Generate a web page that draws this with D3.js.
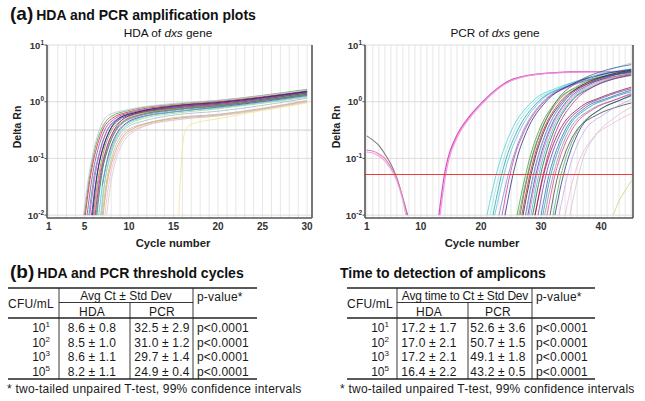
<!DOCTYPE html>
<html><head><meta charset="utf-8">
<script src="https://cdn.jsdelivr.net/npm/d3@7"></script>
<style>
body{margin:0;background:#fff}
svg{display:block}
text{font-family:"Liberation Sans",Arial,sans-serif}
</style>
</head><body>
<svg id="c" width="645" height="401"></svg>
<script>
// ---------- DATA ----------
const yTickExps = [1, 0, -1, -2];
const hdaXTicks = [1, 5, 10, 15, 20, 25, 30];
const pcrXTicks = [1, 10, 20, 30, 40];
const hdaThreshold = 0.316;
const pcrThreshold = 0.054;

// HDA amplification curves: [cycle, delta Rn]
const hdaCurves = [
  [[5.0,0.01],[5.6,0.05],[6.2,0.15],[7,0.35],[8,0.55],[10,0.7],[15,0.9],[20,1.05],[30,1.65]],
  [[5.1,0.01],[5.7,0.05],[6.3,0.14],[7.1,0.33],[8.2,0.52],[10,0.66],[15,0.86],[20,1.0],[30,1.55]],
  [[5.3,0.01],[5.9,0.05],[6.5,0.14],[7.3,0.32],[8.4,0.5],[10,0.63],[15,0.82],[20,0.96],[30,1.5]],
  [[5.5,0.01],[6.1,0.05],[6.7,0.13],[7.5,0.3],[8.6,0.48],[10,0.6],[15,0.8],[20,0.93],[30,1.45]],
  [[4.9,0.01],[5.4,0.04],[6.0,0.13],[6.8,0.36],[7.7,0.58],[10,0.73],[15,0.93],[20,1.06],[30,1.6]],
  [[5.6,0.01],[6.2,0.05],[6.8,0.14],[7.6,0.32],[8.7,0.5],[10,0.6],[15,0.78],[20,0.9],[30,1.4]],
  [[5.8,0.01],[6.4,0.05],[7.0,0.14],[7.8,0.3],[8.9,0.48],[10,0.57],[15,0.76],[20,0.88],[30,1.42]],
  [[6.0,0.01],[6.5,0.04],[7.1,0.12],[8.0,0.3],[9,0.45],[10,0.55],[15,0.75],[20,0.87],[30,1.38]],
  [[6.1,0.01],[6.7,0.05],[7.4,0.14],[8.3,0.3],[9.3,0.45],[10.5,0.55],[15,0.73],[20,0.86],[30,1.35]],
  [[6.3,0.01],[6.9,0.05],[7.6,0.14],[8.5,0.3],[9.5,0.44],[10.5,0.52],[15,0.7],[20,0.83],[30,1.32]],
  [[7.0,0.033],[7.6,0.1],[8.6,0.27],[9.7,0.42],[11,0.52],[15,0.66],[20,0.8],[30,1.28]],
  [[6.6,0.01],[7.2,0.05],[7.9,0.13],[8.8,0.28],[9.9,0.42],[11,0.5],[15,0.66],[20,0.78],[30,1.25]],
  [[6.8,0.01],[7.3,0.04],[8.0,0.12],[9.0,0.27],[10,0.37],[11.5,0.45],[15,0.58],[20,0.68],[30,1.15]],
  [[7.0,0.01],[7.5,0.04],[8.2,0.12],[9.2,0.26],[10.2,0.34],[12,0.42],[15,0.52],[20,0.6],[30,1.05]],
  [[7.1,0.01],[7.6,0.04],[8.3,0.11],[9.3,0.24],[10.4,0.33],[12,0.41],[15,0.5],[20,0.58],[30,1.02]],
  [[7.3,0.01],[7.8,0.04],[8.5,0.11],[9.4,0.23],[10.5,0.31],[12,0.39],[15,0.48],[20,0.57],[30,1.0]],
  [[7.5,0.01],[8.0,0.04],[8.6,0.1],[9.6,0.22],[10.6,0.3],[12,0.38],[15,0.47],[20,0.56],[30,0.98]],
  [[6.2,0.01],[6.8,0.05],[7.5,0.15],[8.4,0.33],[9.4,0.5],[10.5,0.6],[15,0.8],[20,0.93],[30,1.48]],
  [[5.9,0.01],[6.5,0.06],[7.2,0.17],[8.0,0.35],[9,0.52],[10.5,0.63],[15,0.84],[20,0.97],[30,1.52]],
  [[6.4,0.01],[7.0,0.06],[7.7,0.16],[8.6,0.33],[9.6,0.47],[11,0.57],[15,0.72],[20,0.85],[30,1.35]],
  [[15.6,0.01],[15.8,0.05],[16.0,0.15],[16.3,0.3],[17,0.4],[20,0.5],[30,0.95]],
  [[6.9,0.01],[7.4,0.05],[8.1,0.14],[9.1,0.3],[10,0.4],[11.5,0.5],[15,0.62],[20,0.75],[30,1.2]]
];
const hdaColors = ["#3cb043","#d62728","#8e44ad","#17a2a2","#c8b8e0","#e040c0","#1f3a93","#8a9a2a",
  "#f06aa0","#7a8aa8","#6a2c91","#40c8d8","#a8bcd0","#b8b8b8","#e0a050","#f4b8d0","#cfcfcf",
  "#a0207a","#202060","#2e8b57","#f0e68c","#98d898"];

// PCR amplification curves: [cycle, delta Rn]
const pcrCurves = [
  [[1,0.25],[2,0.21],[3,0.17],[4,0.12],[5,0.08],[6,0.045],[7,0.02],[7.8,0.01]],
  [[1,0.14],[2,0.135],[3,0.12],[4,0.1],[5,0.07],[6,0.045],[7,0.02],[7.7,0.01]],
  [[1,0.13],[2,0.125],[3,0.11],[4,0.09],[5,0.065],[6,0.04],[7,0.018],[7.5,0.01]],
  [[13,0.01],[13.9,0.05],[14.5,0.1],[15.7,0.22],[18.2,0.57],[20.3,1.0],[23,1.8],[25.3,2.5],[31,3.2],[38,3.4],[45,3.4]],
  [[13.2,0.01],[14.1,0.05],[14.7,0.1],[16,0.23],[18.5,0.58],[20.5,1.0],[23.2,1.8],[25.5,2.45],[31,3.15],[38,3.35],[45,3.35]],
  [[21,0.01],[22.5,0.05],[23.3,0.1],[25,0.3],[28.5,1.0],[33,1.8],[38,2.6],[45,3.4]],
  [[21.5,0.01],[23,0.05],[23.8,0.1],[25.5,0.3],[29,1.0],[33,1.7],[38,2.5],[45,3.2]],
  [[22,0.01],[23.4,0.05],[24.2,0.1],[26,0.3],[29.5,1.0],[34,1.8],[39,2.6],[45,3.3]],
  [[22.3,0.01],[23.8,0.05],[24.6,0.1],[26.4,0.3],[29.8,1.0],[34,1.9],[39,2.9],[45,3.8]],
  [[23,0.01],[24.5,0.05],[25.3,0.1],[27,0.3],[30.3,1.0],[34.5,1.9],[39,2.8],[45,3.6]],
  [[23.5,0.01],[24.8,0.05],[25.5,0.1],[27.2,0.3],[30.5,1.0],[35,1.9],[40,2.7],[45,3.3]],
  [[24,0.01],[25.3,0.05],[26,0.1],[27.6,0.3],[30.8,1.0],[35,2.0],[40,3.0],[45,3.7]],
  [[26,0.01],[27.4,0.05],[28.1,0.1],[29.6,0.3],[32.5,1.0],[36.5,1.9],[40,2.6],[45,3.3]],
  [[26.3,0.01],[27.7,0.05],[28.4,0.1],[29.9,0.3],[32.8,1.0],[36.5,2.0],[41,2.9],[45,3.5]],
  [[26.8,0.01],[28.1,0.05],[28.8,0.1],[30.3,0.3],[33.2,1.0],[37,1.9],[41,2.6],[45,3.1]],
  [[27,0.01],[28.3,0.05],[29,0.1],[30.5,0.3],[33.5,1.0],[37,2.0],[41,2.9],[45,3.6]],
  [[27.4,0.01],[28.7,0.05],[29.4,0.1],[30.9,0.3],[33.8,1.0],[37.5,2.0],[41,2.8],[45,3.4]],
  [[27.8,0.01],[29.1,0.05],[29.8,0.1],[31.3,0.3],[34.2,1.0],[38,2.0],[41.5,2.8],[45,3.5]],
  [[28,0.01],[29.3,0.05],[30,0.1],[31.5,0.3],[34.5,1.0],[38,1.9],[42,2.7],[45,3.1]],
  [[28.3,0.01],[29.6,0.05],[30.3,0.1],[31.8,0.3],[34.8,1.0],[38.5,1.9],[42,2.6],[45,3.0]],
  [[28.6,0.01],[29.9,0.05],[30.6,0.1],[32.1,0.3],[35,1.0],[38.5,1.8],[42,2.5],[45,2.9]],
  [[29,0.01],[30.3,0.05],[31,0.1],[32.5,0.3],[35.5,1.0],[39,1.9],[42.5,2.6],[45,3.0]],
  [[27.5,0.01],[28.8,0.05],[29.5,0.1],[31,0.3],[33.5,1.0],[37,2.2],[41,3.5],[45,4.8]],
  [[26.5,0.01],[27.8,0.05],[28.5,0.1],[30,0.3],[32.5,1.0],[36,2.2],[40,3.4],[45,4.5]],
  [[29,0.01],[30.4,0.05],[31.2,0.1],[33,0.3],[36.5,0.8],[40,1.2],[45,1.8]],
  [[29.5,0.01],[30.8,0.05],[31.6,0.1],[33.4,0.3],[37,0.8],[40.5,1.2],[45,1.7]],
  [[30,0.01],[31.3,0.05],[32.1,0.1],[33.9,0.3],[37.5,0.8],[41,1.15],[45,1.6]],
  [[30.3,0.01],[31.6,0.05],[32.4,0.1],[34.2,0.3],[38,0.8],[41,1.1],[45,1.5]],
  [[30.6,0.01],[32,0.05],[32.8,0.1],[34.6,0.3],[38.5,0.75],[42,1.05],[45,1.35]],
  [[31,0.01],[32.3,0.05],[33.1,0.1],[35,0.3],[38.8,0.75],[42,1.05],[45,1.4]],
  [[31.5,0.01],[32.8,0.05],[33.7,0.1],[35.6,0.28],[39.5,0.6],[42.5,0.8],[45,0.95]],
  [[32,0.01],[33.3,0.05],[34.1,0.1],[36,0.3],[39.5,0.7],[42.5,1.0],[45,1.25]],
  [[32.3,0.01],[33.7,0.05],[34.5,0.1],[36.3,0.3],[40,0.75],[43,1.05],[45,1.3]],
  [[33,0.01],[34.4,0.05],[35.2,0.1],[37,0.28],[40.5,0.6],[45,1.1]],
  [[34,0.01],[35.5,0.05],[36.5,0.1],[38.5,0.22],[42,0.42],[45,0.62]],
  [[34.8,0.01],[36.2,0.05],[37,0.1],[39,0.25],[42,0.5],[45,0.8]],
  [[42,0.01],[43,0.018],[44,0.027],[45,0.04]]
];
const pcrColors = ["#707070","#e070c0","#f0a0d8","#d040c0","#f090d8",
  "#40d0d0","#90e0e8","#20a0a0","#60b8e8","#7090b0","#d030b0","#202870",
  "#30a030","#8a9a2a","#d02020","#202020","#8030a0","#2050c0","#f070b0","#30c0d0","#206030","#c020a0",
  "#90c8f0","#506080",
  "#901030","#7040a0","#3060d0","#20a0a0","#909090","#e040a0","#404040","#50b050","#283080","#c0a8e8","#f0b0e0","#c8c8c8",
  "#c8d070"];

// Table data
const cfuExps = ["1", "2", "3", "5"];
const hdaCtMean = [8.6, 8.5, 8.6, 8.2];
const hdaCtSd   = [0.8, 1.0, 1.1, 1.1];
const pcrCtMean = [32.5, 31.0, 29.7, 24.9];
const pcrCtSd   = [2.9, 1.2, 1.4, 0.4];
const hdaTimeMean = [17.2, 17.0, 17.2, 16.4];
const hdaTimeSd   = [1.7, 2.1, 2.1, 2.2];
const pcrTimeMean = [52.6, 50.7, 49.1, 43.2];
const pcrTimeSd   = [3.6, 1.5, 1.8, 0.5];
const pValues = ["p<0.0001", "p<0.0001", "p<0.0001", "p<0.0001"];

// ---------- DRAW ----------
const svg = d3.select("#c");
svg.append("rect").attr("width",645).attr("height",401).attr("fill","#fff");
const defs = svg.append("defs");

function drawPlot(o) {
  const x = d3.scaleLinear().domain(o.xDomain).range([o.left, o.right]);
  const y = d3.scaleLog().domain([0.0089, 10]).range([218, 45]);
  const g = svg.append("g");
  g.selectAll(".vg").data(d3.range(1, o.maxCycle + 1)).join("line")
    .attr("x1", d => x(d)).attr("x2", d => x(d)).attr("y1", 45).attr("y2", 218)
    .attr("stroke", "#dcdcdc").attr("stroke-width", 0.7);
  g.selectAll(".hg").data(yTickExps).join("line")
    .attr("x1", o.left).attr("x2", o.right)
    .attr("y1", d => y(Math.pow(10, d))).attr("y2", d => y(Math.pow(10, d)))
    .attr("stroke", "#d4d4d4").attr("stroke-width", 0.8);
  const cid = "clip" + o.id;
  defs.append("clipPath").attr("id", cid).append("rect")
    .attr("x", o.left).attr("y", 45).attr("width", o.right - o.left).attr("height", 218 - 45);
  const line = d3.line().x(d => x(d[0])).y(d => y(d[1])).curve(d3.curveMonotoneX);
  const cg = g.append("g").attr("clip-path", `url(#${cid})`);
  if (o.thresholdBelow) {
    cg.append("line").attr("x1", o.left).attr("x2", o.right)
      .attr("y1", y(o.threshold)).attr("y2", y(o.threshold))
      .attr("stroke", o.thresholdColor).attr("stroke-width", 0.9);
  }
  cg.selectAll("path").data(o.curves).join("path")
    .attr("d", line).attr("fill", "none")
    .attr("stroke", (d, i) => o.colors[i % o.colors.length])
    .attr("stroke-width", (d, i) => o.widths ? o.widths(i) : 0.9)
    .attr("stroke-opacity", 0.9);
  if (!o.thresholdBelow) {
    const ty = Math.round(y(o.threshold)) + 0.5;
    cg.append("line").attr("x1", o.left).attr("x2", o.right)
      .attr("y1", ty).attr("y2", ty)
      .attr("stroke", o.thresholdColor).attr("stroke-width", 1);
  }
  const ax = "#555";
  g.append("line").attr("x1", o.left).attr("x2", o.left).attr("y1", 45).attr("y2", 218).attr("stroke", ax).attr("stroke-width", 1.6);
  g.append("line").attr("x1", o.right).attr("x2", o.right).attr("y1", 45).attr("y2", 218).attr("stroke", ax).attr("stroke-width", 1.6);
  g.append("line").attr("x1", o.left).attr("x2", o.right).attr("y1", 218).attr("y2", 218).attr("stroke", ax).attr("stroke-width", 1.6);
  g.selectAll(".yt").data(yTickExps).join("line")
    .attr("x1", o.left - 2.5).attr("x2", o.left)
    .attr("y1", d => y(Math.pow(10, d))).attr("y2", d => y(Math.pow(10, d)))
    .attr("stroke", ax).attr("stroke-width", 1);
  const yl = g.selectAll(".yl").data(yTickExps).join("text")
    .attr("x", o.left - 3).attr("y", d => y(Math.pow(10, d)) + 3.5)
    .attr("text-anchor", "end").attr("font-size", 9.5).attr("font-weight", "bold").attr("fill", "#333");
  yl.append("tspan").text("10");
  yl.append("tspan").attr("dy", -4).attr("font-size", 6.5).text(d => d < 0 ? "-" + Math.abs(d) : d);
  g.selectAll(".xl").data(o.xTicks).join("text")
    .attr("x", d => x(d)).attr("y", 229.5)
    .attr("text-anchor", "middle").attr("font-size", 10).attr("font-weight", "bold").attr("fill", "#333")
    .text(d => d);
  g.append("text").attr("x", o.xLabelX).attr("y", 247).attr("text-anchor", "middle")
    .attr("font-size", 11.3).attr("font-weight", "bold").attr("fill", "#222").text("Cycle number");
  g.append("text").attr("transform", `translate(${o.yLabelX},127) rotate(-90)`).attr("text-anchor", "middle")
    .attr("font-size", 10.5).attr("font-weight", "bold").attr("fill", "#222").text("Delta Rn");
  const t = g.append("text").attr("x", o.titleX).attr("y", 37).attr("text-anchor", "middle")
    .attr("font-size", 11.8).attr("fill", "#111");
  t.append("tspan").text(o.titlePre + " of ");
  t.append("tspan").attr("font-style", "italic").text("dxs");
  t.append("tspan").text(" gene");
}

drawPlot({id: "h", left: 47, right: 312, xDomain: [0.8, 30.55], maxCycle: 30, xTicks: hdaXTicks,
  curves: hdaCurves, colors: hdaColors, threshold: hdaThreshold, thresholdColor: "#c8c8c8", thresholdBelow: true,
  xLabelX: 173, yLabelX: 21, titleX: 168, titlePre: "HDA"});
drawPlot({id: "p", left: 365, right: 633, xDomain: [0.7, 45.3], maxCycle: 45, xTicks: pcrXTicks,
  curves: pcrCurves, colors: pcrColors, threshold: pcrThreshold, thresholdColor: "#f03a3a", thresholdBelow: false,
  widths: i => (i === 3 || i === 4) ? 1.3 : (i < 3 ? 1.1 : 0.85),
  xLabelX: 482, yLabelX: 340, titleX: 495, titlePre: "PCR"});

function heading(xp, y, letter, txt) {
  const t = svg.append("text").attr("x", xp).attr("y", y).attr("font-weight", "bold").attr("fill", "#111");
  if (letter) t.append("tspan").attr("font-size", 19).text(letter);
  t.append("tspan").attr("font-size", 14).attr("dx", letter ? 3 : 0).text(txt);
}
heading(10, 20, "(a)", "HDA and PCR amplification plots");
heading(10, 278, "(b)", "HDA and PCR threshold cycles");
heading(340, 278, null, "Time to detection of amplicons");

function drawTable(o) {
  const g = svg.append("g").attr("fill", "#1a1a1a");
  const fs = 12;
  const rowY = [332, 346.7, 361.4, 376];
  const L = (x1, y1, x2, y2, w) => g.append("line").attr("x1", x1).attr("y1", y1).attr("x2", x2).attr("y2", y2)
    .attr("stroke", "#222").attr("stroke-width", w);
  L(o.x0, 288, o.x4, 288, 1.5);
  L(o.x1, 302.5, o.x3, 302.5, 0.9);
  L(o.x0, 318, o.x4, 318, 1.5);
  L(o.x0, 379, o.x4, 379, 1.5);
  L(o.x1, 288, o.x1, 379, 0.9);
  L(o.x2, 302.5, o.x2, 379, 0.9);
  L(o.x3, 288, o.x3, 379, 0.9);
  const T = (x, y, s, anchor) => g.append("text").attr("x", x).attr("y", y).attr("font-size", fs)
    .attr("text-anchor", anchor || "middle").attr("letter-spacing", 0.2).text(s);
  T(o.cfuX, 308, "CFU/mL");
  T(o.hdrX, 300, o.header).attr("letter-spacing", o.hdrSpacing);
  T(o.pvX, 301, "p-value*", "start");
  T(o.hdaX, 316, "HDA");
  T(o.pcrX, 316, "PCR");
  cfuExps.forEach((e, i) => {
    const t = g.append("text").attr("x", o.cfuRight).attr("y", rowY[i]).attr("font-size", fs).attr("text-anchor", "end");
    t.append("tspan").text("10");
    t.append("tspan").attr("dy", -5).attr("font-size", 8).text(e);
    T(o.hdaX, rowY[i], o.hdaMean[i].toFixed(1) + " ± " + o.hdaSd[i].toFixed(1));
    T(o.pcrX, rowY[i], o.pcrMean[i].toFixed(1) + " ± " + o.pcrSd[i].toFixed(1));
    T(o.pvX, rowY[i], pValues[i], "start");
  });
  T(o.footX, 393, "* two-tailed unpaired T-test, 99% confidence intervals", "start").attr("letter-spacing", 0.22);
}
drawTable({x0: 8, x1: 59, x2: 130, x3: 193, x4: 257, cfuX: 31, cfuRight: 50, hdrX: 126, header: "Avg Ct ± Std Dev", hdrSpacing: 0,
  pvX: 197, hdaX: 92, pcrX: 162, hdaMean: hdaCtMean, hdaSd: hdaCtSd, pcrMean: pcrCtMean, pcrSd: pcrCtSd, footX: 7});
drawTable({x0: 347, x1: 397, x2: 468, x3: 532, x4: 595, cfuX: 370, cfuRight: 389, hdrX: 465, header: "Avg time to Ct ± Std Dev", hdrSpacing: -0.2,
  pvX: 536, hdaX: 429, pcrX: 498, hdaMean: hdaTimeMean, hdaSd: hdaTimeSd, pcrMean: pcrTimeMean, pcrSd: pcrTimeSd, footX: 340});
</script>
</body></html>
